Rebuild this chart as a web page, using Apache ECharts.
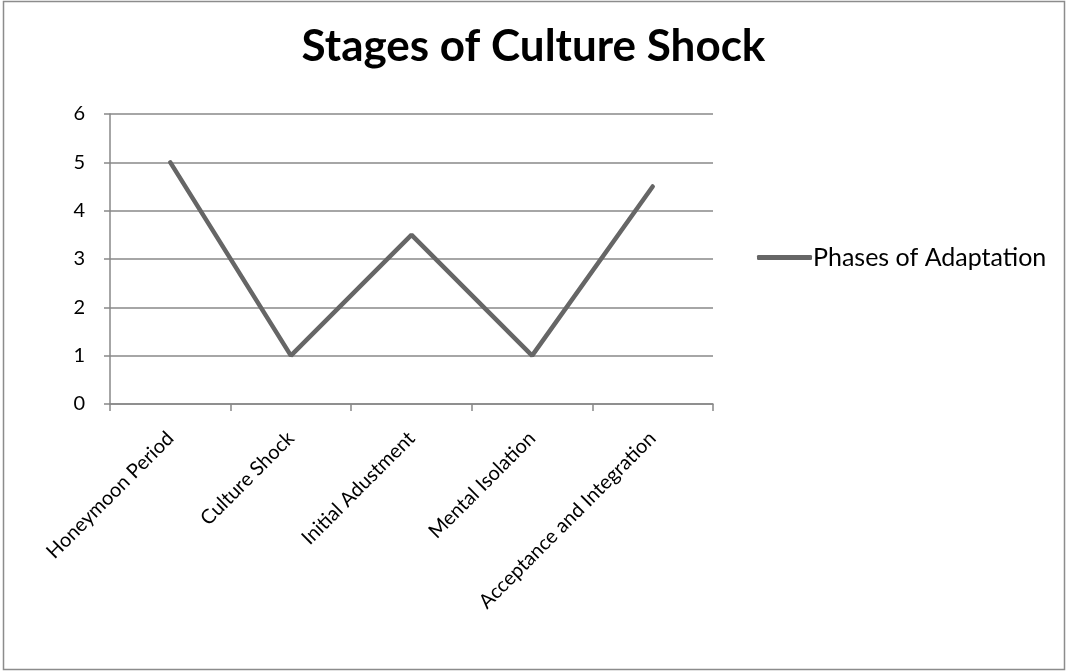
<!DOCTYPE html>
<html>
<head>
<meta charset="utf-8">
<script src="https://cdn.jsdelivr.net/npm/echarts@6/dist/echarts.min.js"></script>
<style>
  html, body { margin: 0; padding: 0; background: #fff; }
  #main { width: 1067px; height: 672px; }
</style>
</head>
<body>
<div id="main"></div>
<script>
var categories = ['Honeymoon Period', 'Culture Shock', 'Initial Adustment', 'Mental Isolation', 'Acceptance and Integration'];
var adaptation = [5, 1, 3.5, 1, 4.5];
var yTicks = [0, 6, 1]; // min, max, interval

(function () {
    var myChart = echarts.init(document.getElementById('main'));
    var font = 'Lato';
    var option = {
        animation: false,
        title: {
            text: 'Stages of Culture Shock',
            left: 'center',
            top: 20,
            textStyle: { fontFamily: font, fontSize: 44, fontWeight: 'bold', color: '#000' }
        },
        // outer frame of the chart
        graphic: [{
            type: 'rect',
            shape: { x: 3.5, y: 1.5, width: 1061, height: 668 },
            style: { fill: 'none', stroke: '#8c8c8c', lineWidth: 1.5 },
            silent: true
        }],
        legend: {
            orient: 'vertical',
            left: 757,
            top: 245,
            padding: 0,
            itemWidth: 55,
            itemHeight: 5,
            itemGap: 2,
            textStyle: { fontFamily: font, fontSize: 25, color: '#000', padding: [0, 0, 0, -4] },
            data: [{ name: 'Phases of Adaptation', icon: 'roundRect' }]
        },
        grid: {
            left: 110,
            right: 354,
            top: 114,
            bottom: 268
        },
        xAxis: {
            type: 'category',
            data: categories,
            boundaryGap: true,
            axisLine: { lineStyle: { color: '#888', width: 1.5 } },
            axisTick: { show: true, length: 7, lineStyle: { color: '#888', width: 1.5 } },
            axisLabel: {
                rotate: 45,
                margin: 31,
                interval: 0,
                fontFamily: font,
                fontSize: 20,
                color: '#000'
            }
        },
        yAxis: {
            type: 'value',
            min: yTicks[0],
            max: yTicks[1],
            interval: yTicks[2],
            axisLine: { show: true, lineStyle: { color: '#888', width: 1.5 } },
            axisTick: { show: true, length: 6, lineStyle: { color: '#888', width: 1.5 } },
            axisLabel: { margin: 25, fontFamily: font, fontSize: 20, color: '#000' },
            splitLine: { lineStyle: { color: '#888', width: 1.5 } }
        },
        series: [{
            name: 'Phases of Adaptation',
            type: 'line',
            data: adaptation,
            symbol: 'none',
            color: '#666666',
            lineStyle: { color: '#666666', width: 4.5, cap: 'round' }
        }]
    };
    myChart.setOption(option);
})();
</script>
</body>
</html>
